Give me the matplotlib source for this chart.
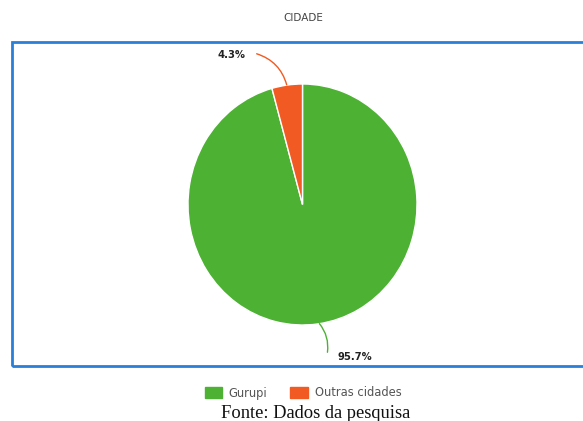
import numpy as np
import matplotlib
matplotlib.use('Agg')
import matplotlib.pyplot as plt
from matplotlib.patches import Rectangle, Patch

W, H = 583, 421

labels = ['Gurupi', 'Outras cidades']
values = [95.7, 4.3]
colors = ['#4db133', '#f15a22']

fig = plt.figure(figsize=(W / 100, H / 100), dpi=100)

def fx(px):
    return px / W

def fy(py):
    return 1 - py / H

# blue frame
fig.patches.append(Rectangle((fx(12), fy(366)), fx(600) - fx(12), fy(42) - fy(366),
                             transform=fig.transFigure, fill=False,
                             edgecolor='#2a80d8', linewidth=2.0))

fig.text(fx(303), fy(18), 'CIDADE', ha='center', va='center', fontsize=7.5, color='#444444')

# the source image is slightly stretched vertically
cx, cy, rx, ry = 302.5, 204.5, 114.5, 120.5
ax = fig.add_axes([fx(cx - rx), fy(cy + ry), 2 * rx / W, 2 * ry / H])
wedges, _ = ax.pie(values, colors=colors, startangle=90, counterclock=False,
                   wedgeprops=dict(edgecolor='white', linewidth=1))
ax.set_aspect('auto')
ax.set_xlim(-1, 1)
ax.set_ylim(-1, 1)
ax.axis('off')

# leader lines and labels
label_pos = [(355, 357), (232, 55)]
rads = [0.25, -0.3]
for w, v, (lx, ly), rad, c in zip(wedges, values, label_pos, rads, colors):
    ang = np.deg2rad((w.theta1 + w.theta2) / 2)
    x0, y0 = 0.98 * np.cos(ang), 0.98 * np.sin(ang)
    tx = lx - 28 if lx > cx else lx + 22
    ty = ly - 2
    ax.annotate('', xy=(x0, y0), xycoords='data',
                xytext=(fx(tx), fy(ty)), textcoords='figure fraction',
                arrowprops=dict(arrowstyle='-', color=c, lw=1,
                                connectionstyle=f'arc3,rad={rad}'))
    fig.text(fx(lx), fy(ly), f'{v}%', ha='center', va='center',
             fontsize=7.2, fontweight='bold', color='#222222')

handles = [Patch(facecolor=c, edgecolor=c) for c in colors]
fig.legend(handles, labels, loc='center', bbox_to_anchor=(fx(303), fy(393)),
           ncol=2, frameon=False, fontsize=8.3, labelcolor='#555555',
           handlelength=1.5, handleheight=1.1, columnspacing=2.0, handletextpad=0.6)

fig.text(fx(316), fy(413), 'Fonte: Dados da pesquisa', ha='center', va='center',
         fontsize=13.3, family='Liberation Serif', color='#111111')

fig.savefig('out.png', dpi=100)
